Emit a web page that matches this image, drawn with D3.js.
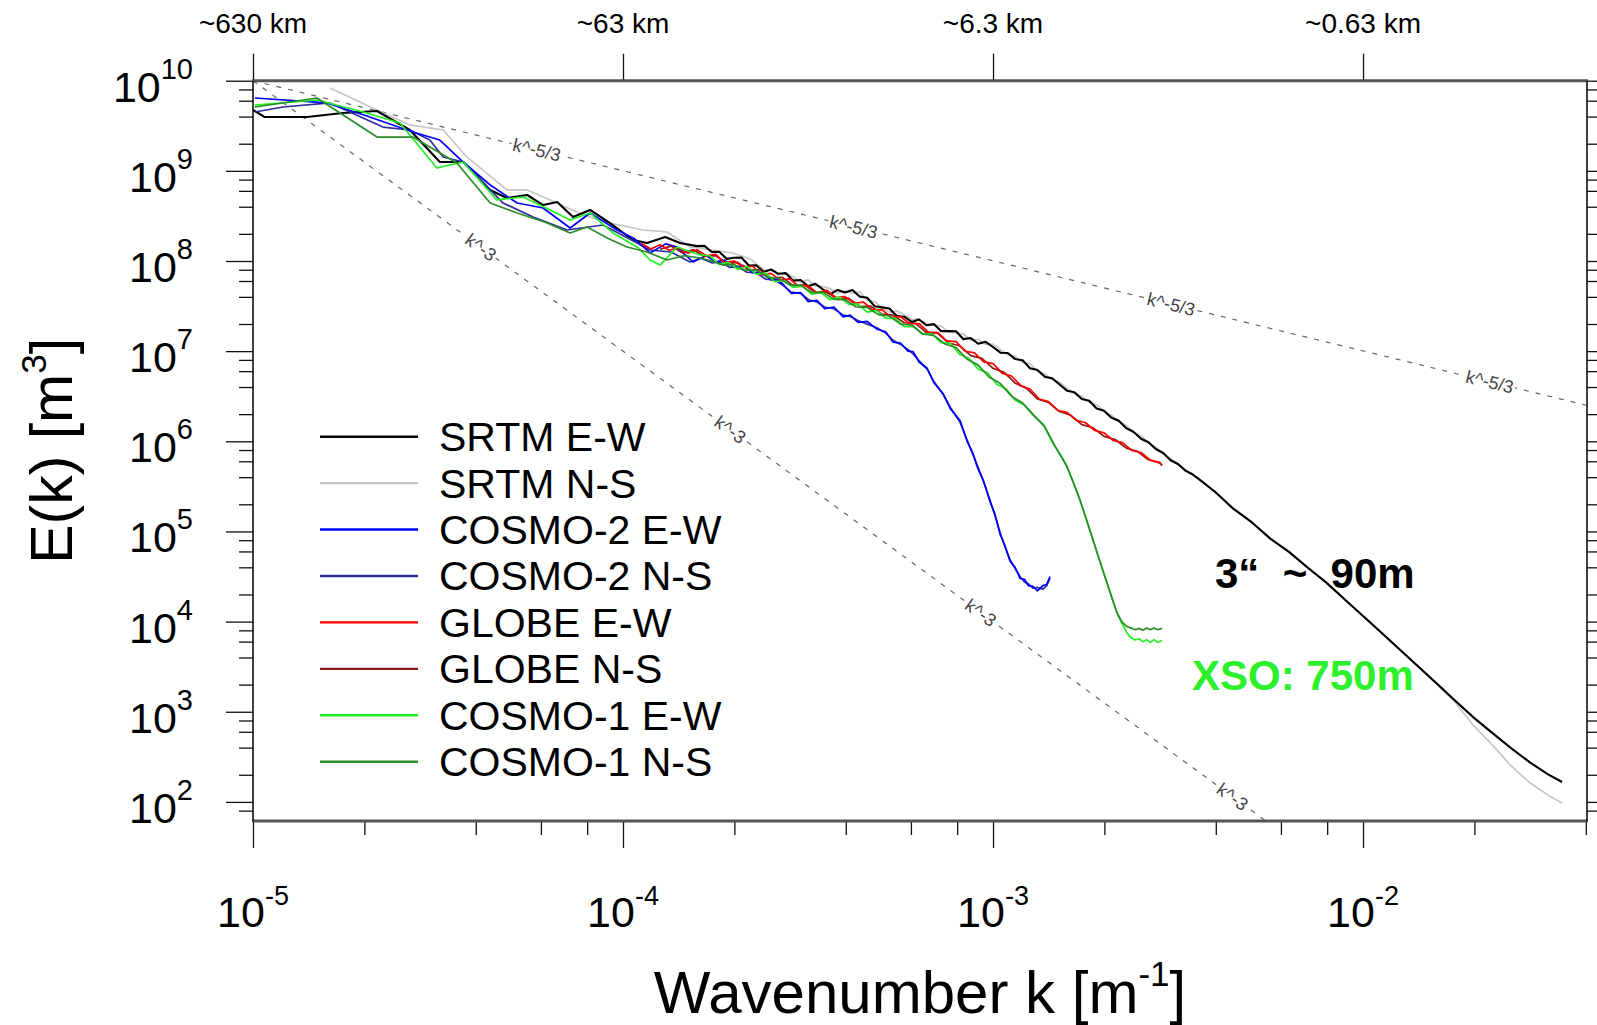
<!DOCTYPE html>
<html>
<head>
<meta charset="utf-8">
<script src="https://cdn.jsdelivr.net/npm/d3@7"></script>
<style>
  body { margin: 0; background: #fff; }
  svg { display: block; font-family: "Liberation Sans", Arial, Helvetica, sans-serif; }
</style>
</head>
<body>
<svg id="chart" width="1597" height="1025"></svg>
<script>
// spectra, as [log10 k, log10 E] pairs
const srtmEW = [[-5.000,9.675],[-4.968,9.597],[-4.854,9.597],[-4.757,9.642],[-4.665,9.664],[-4.576,9.453],[-4.495,9.098],[-4.432,9.098],[-4.359,8.788],[-4.314,8.699],[-4.259,8.732],[-4.216,8.621],[-4.178,8.655],[-4.135,8.488],[-4.089,8.566],[-4.035,8.421],[-3.973,8.233],[-3.935,8.200],[-3.886,8.266],[-3.846,8.200],[-3.800,8.165],
  [-3.78,8.168],[-3.76,8.100],[-3.74,8.102],[-3.72,8.024],[-3.70,8.036],[-3.68,8.038],[-3.66,7.950],[-3.64,7.952],[-3.62,7.879],[-3.60,7.906],[-3.58,7.858],[-3.56,7.865],[-3.54,7.782],[-3.52,7.789],[-3.50,7.721],[-3.48,7.748],[-3.46,7.685],[-3.44,7.632],[-3.42,7.679],[-3.40,7.651],[-3.38,7.678],[-3.36,7.605],[-3.34,7.592],[-3.32,7.499],[-3.30,7.486],[-3.28,7.473],[-3.26,7.390],[-3.24,7.382],[-3.22,7.324],[-3.20,7.351],[-3.18,7.288],[-3.16,7.300],[-3.14,7.222],[-3.12,7.224],[-3.10,7.221],[-3.08,7.133],[-3.06,7.145],[-3.04,7.082],[-3.02,7.104],[-3.00,7.046],
  [-2.98,6.983],[-2.96,6.980],[-2.94,6.912],[-2.92,6.899],[-2.90,6.810],[-2.88,6.790],[-2.86,6.715],[-2.84,6.700],[-2.82,6.630],[-2.80,6.560],[-2.78,6.545],[-2.76,6.470],[-2.74,6.450],[-2.72,6.365],[-2.70,6.340],[-2.68,6.262],[-2.66,6.229],[-2.64,6.146],[-2.62,6.103],[-2.60,6.028],[-2.58,5.990],[-2.56,5.915],[-2.54,5.870],[-2.52,5.790],[-2.50,5.748],[-2.48,5.675],[-2.46,5.632],[-2.44,5.570],
  [-2.400,5.440],[-2.350,5.250],[-2.300,5.100],[-2.250,4.918],[-2.200,4.774],[-2.150,4.600],[-2.100,4.435],[-2.050,4.249],[-2.000,4.062],[-1.950,3.876],[-1.900,3.688],[-1.850,3.499],[-1.800,3.310],[-1.750,3.120],[-1.700,2.932],[-1.650,2.763],[-1.600,2.597],[-1.550,2.441],[-1.500,2.306],[-1.462,2.221]];

const srtmNS = [[-4.792,9.919],[-4.665,9.675],[-4.576,9.509],[-4.486,9.453],[-4.422,9.154],[-4.314,8.788],[-4.259,8.788],[-4.178,8.643],[-4.108,8.510],[-4.035,8.421],[-3.946,8.344],[-3.881,8.322],[-3.819,8.155],[-3.760,8.120],[-3.703,8.089],[-3.655,8.020],
  [-3.62,7.906],[-3.60,7.903],[-3.58,7.845],[-3.56,7.862],[-3.54,7.824],[-3.52,7.766],[-3.50,7.793],[-3.48,7.720],[-3.46,7.717],[-3.44,7.694],[-3.42,7.641],[-3.40,7.668],[-3.38,7.640],[-3.36,7.662],[-3.34,7.564],[-3.32,7.551],[-3.30,7.483],[-3.28,7.430],[-3.26,7.447],[-3.24,7.404],[-3.22,7.351],[-3.20,7.358],[-3.18,7.290],[-3.16,7.292],[-3.14,7.279],[-3.12,7.211],[-3.10,7.203],[-3.08,7.190],[-3.06,7.122],[-3.04,7.129],[-3.02,7.076],[-3.00,7.078],
  [-2.98,7.020],[-2.96,6.957],[-2.94,6.944],[-2.92,6.876],[-2.90,6.862],[-2.88,6.777],[-2.86,6.747],[-2.84,6.682],[-2.82,6.657],[-2.80,6.587],[-2.78,6.527],[-2.76,6.502],[-2.74,6.432],[-2.72,6.404],[-2.70,6.334],[-2.68,6.290],[-2.66,6.216],[-2.64,6.176],[-2.62,6.104],[-2.60,6.060],[-2.58,5.985],[-2.56,5.934],[-2.54,5.860],[-2.52,5.808],[-2.50,5.738],[-2.48,5.687],[-2.46,5.627],[-2.44,5.570],
  [-2.400,5.430],[-2.350,5.262],[-2.300,5.092],[-2.250,4.926],[-2.200,4.766],[-2.150,4.606],[-2.100,4.437],[-2.050,4.250],[-2.000,4.060],[-1.950,3.872],[-1.900,3.682],[-1.850,3.492],[-1.800,3.300],[-1.750,3.100],[-1.700,2.840],[-1.650,2.630],[-1.600,2.400],[-1.550,2.215],[-1.500,2.075],[-1.462,1.988]];

const cosmo2EW = [[-4.995,9.808],[-4.800,9.753],[-4.700,9.620],[-4.568,9.431],[-4.495,9.342],[-4.432,9.098],[-4.359,8.843],[-4.286,8.643],[-4.216,8.588],[-4.143,8.366],[-4.089,8.532],[-4.016,8.344],[-3.970,8.250],[-3.927,8.089],[-3.885,8.190],[-3.854,8.155],[-3.811,7.989],
  [-3.775,8.060],[-3.750,7.990],[-3.725,8.010],[-3.700,7.930],[-3.675,7.950],[-3.650,7.870],[-3.625,7.870],[-3.600,7.790],[-3.585,7.800],[-3.568,7.745],[-3.545,7.640],[-3.520,7.650],[-3.500,7.550],[-3.476,7.565],[-3.455,7.470],[-3.430,7.490],[-3.405,7.380],[-3.386,7.400],[-3.365,7.320],[-3.340,7.330],[-3.314,7.245],[-3.290,7.215],[-3.270,7.100],[-3.250,7.090],[-3.230,7.000],[-3.216,6.995],[-3.200,6.880],[-3.178,6.810],[-3.160,6.650],[-3.135,6.530],[-3.115,6.360],[-3.089,6.230],[-3.070,6.000],[-3.055,5.875],[-3.043,5.720],[-3.025,5.555],[-3.008,5.330],[-2.995,5.195],[-2.981,4.970],[-2.968,4.845],[-2.954,4.670],[-2.940,4.600],[-2.927,4.480],[-2.915,4.470],[-2.905,4.400],[-2.892,4.390],[-2.880,4.340],[-2.865,4.400],[-2.855,4.410],[-2.846,4.500]];

const cosmo2NS = [[-4.995,9.653],[-4.919,9.708],[-4.792,9.753],[-4.649,9.486],[-4.576,9.453],[-4.522,9.342],[-4.486,9.154],[-4.432,9.098],[-4.324,8.643],[-4.243,8.488],[-4.151,8.344],[-4.054,8.399],[-3.990,8.260],[-3.927,8.122],[-3.870,8.100],[-3.819,7.989],[-3.790,8.030],
  [-3.760,7.980],[-3.738,7.990],[-3.712,7.930],[-3.690,7.940],[-3.665,7.875],[-3.640,7.870],[-3.615,7.800],[-3.590,7.790],[-3.568,7.730],[-3.545,7.655],[-3.520,7.640],[-3.498,7.570],[-3.476,7.545],[-3.455,7.490],[-3.430,7.470],[-3.405,7.400],[-3.386,7.385],[-3.365,7.340],[-3.340,7.300],[-3.314,7.260],[-3.290,7.200],[-3.270,7.120],[-3.250,7.075],[-3.230,7.020],[-3.216,6.970],[-3.200,6.895],[-3.178,6.800],[-3.160,6.665],[-3.135,6.520],[-3.115,6.375],[-3.089,6.210],[-3.070,6.015],[-3.055,5.860],[-3.043,5.740],[-3.025,5.545],[-3.008,5.345],[-2.995,5.180],[-2.981,4.990],[-2.968,4.830],[-2.954,4.690],[-2.940,4.585],[-2.927,4.500],[-2.915,4.440],[-2.905,4.420],[-2.892,4.370],[-2.880,4.380],[-2.865,4.360],[-2.855,4.400],[-2.846,4.480]];

const globeEW = [[-3.950,8.195],[-3.925,8.133],[-3.900,8.181],[-3.875,8.119],[-3.850,8.148],[-3.825,8.086],[-3.800,8.124],[-3.775,8.058],[-3.750,8.075],[-3.725,7.982],[-3.700,7.999],[-3.675,7.936],[-3.650,7.942],[-3.625,7.847],[-3.600,7.863],[-3.575,7.788],[-3.550,7.803],[-3.525,7.718],[-3.500,7.727],[-3.475,7.646],[-3.450,7.676],[-3.425,7.595],[-3.400,7.604],[-3.375,7.531],[-3.350,7.544],[-3.325,7.457],[-3.300,7.460],[-3.275,7.373],[-3.250,7.386],[-3.225,7.301],[-3.200,7.307],[-3.175,7.212],[-3.150,7.207],[-3.125,7.113],[-3.100,7.106],[-3.075,6.999],[-3.050,6.980],[-3.025,6.881],[-3.000,6.862],[-2.975,6.753],[-2.950,6.724],[-2.925,6.617],[-2.900,6.580],[-2.875,6.469],[-2.850,6.440],[-2.825,6.342],[-2.800,6.320],[-2.775,6.233],[-2.750,6.206],[-2.725,6.120],[-2.700,6.094],[-2.675,6.009],[-2.650,5.985],[-2.625,5.900],[-2.600,5.876],[-2.575,5.792],[-2.550,5.767],[-2.543,5.737]];

const globeNS = [[-3.900,8.130],[-3.870,8.165],[-3.840,8.090],[-3.810,8.125],[-3.780,8.050],[-3.750,8.060],[-3.720,7.970],[-3.690,7.985],[-3.660,7.900],[-3.630,7.905],[-3.600,7.810],[-3.570,7.820],[-3.540,7.725],[-3.510,7.735],[-3.480,7.650],[-3.450,7.660],[-3.420,7.575],[-3.390,7.585],[-3.360,7.495],[-3.330,7.500],[-3.300,7.410],[-3.270,7.400],[-3.240,7.315],[-3.210,7.310],[-3.180,7.205],[-3.150,7.200],[-3.120,7.090],[-3.090,7.060],[-3.060,6.950],[-3.030,6.920],[-3.000,6.810],[-2.970,6.765],[-2.940,6.645],[-2.910,6.590],[-2.880,6.470],[-2.850,6.430],[-2.820,6.330],[-2.790,6.290],[-2.760,6.185],[-2.730,6.150],[-2.700,6.055],[-2.670,6.020],[-2.640,5.925],[-2.610,5.890],[-2.580,5.795],[-2.550,5.760],[-2.543,5.730]];

const cosmo1EW = [[-4.995,9.730],[-4.827,9.786],[-4.700,9.650],[-4.603,9.531],[-4.503,9.032],[-4.432,9.098],[-4.341,8.677],[-4.270,8.710],[-4.197,8.566],[-4.143,8.455],[-4.089,8.532],[-4.027,8.311],[-3.960,8.150],[-3.927,8.011],[-3.900,7.955],[-3.854,8.155],[-3.792,8.067],
  [-3.765,8.058],[-3.740,7.961],[-3.715,7.984],[-3.690,7.906],[-3.665,7.939],[-3.640,7.854],[-3.615,7.867],[-3.590,7.770],[-3.565,7.784],[-3.540,7.707],[-3.515,7.721],[-3.490,7.631],[-3.465,7.650],[-3.440,7.570],[-3.415,7.599],[-3.390,7.519],[-3.365,7.521],[-3.340,7.432],[-3.315,7.453],[-3.290,7.364],[-3.265,7.365],[-3.240,7.272],[-3.215,7.275],[-3.190,7.188],[-3.165,7.191],[-3.140,7.093],[-3.115,7.085],[-3.090,6.963],[-3.065,6.922],[-3.040,6.801],[-3.015,6.760],[-2.990,6.633],[-2.965,6.584],[-2.940,6.456],[-2.915,6.401],[-2.890,6.282],[-2.865,6.194],[-2.840,5.990],[-2.815,5.832],[-2.800,5.715],[-2.783,5.540],[-2.765,5.349],[-2.748,5.140],[-2.730,4.905],[-2.711,4.670],[-2.692,4.428],[-2.678,4.255],[-2.665,4.095],[-2.652,3.985],[-2.638,3.874],[-2.627,3.820],[-2.616,3.796],[-2.605,3.810],[-2.595,3.775],[-2.585,3.800],[-2.575,3.770],[-2.565,3.800],[-2.555,3.770],[-2.543,3.790]];

const cosmo1NS = [[-4.995,9.708],[-4.827,9.808],[-4.665,9.375],[-4.568,9.375],[-4.449,9.087],[-4.359,8.643],[-4.286,8.532],[-4.210,8.430],[-4.143,8.311],[-4.097,8.377],[-4.040,8.250],[-3.989,8.155],[-3.935,8.100],[-3.881,8.011],[-3.835,8.060],[-3.792,8.033],
  [-3.760,8.000],[-3.730,7.955],[-3.700,7.960],[-3.670,7.895],[-3.640,7.900],[-3.610,7.820],[-3.580,7.810],[-3.550,7.735],[-3.520,7.730],[-3.490,7.650],[-3.460,7.655],[-3.430,7.575],[-3.400,7.570],[-3.370,7.490],[-3.340,7.485],[-3.310,7.405],[-3.280,7.390],[-3.250,7.300],[-3.220,7.290],[-3.190,7.190],[-3.160,7.175],[-3.130,7.080],[-3.100,7.040],[-3.070,6.910],[-3.040,6.845],[-3.010,6.710],[-2.980,6.640],[-2.950,6.500],[-2.920,6.425],[-2.890,6.290],[-2.860,6.160],[-2.830,5.930],[-2.800,5.720],[-2.783,5.545],[-2.765,5.350],[-2.748,5.135],[-2.730,4.910],[-2.711,4.665],[-2.692,4.430],[-2.678,4.255],[-2.665,4.100],[-2.652,4.000],[-2.640,3.950],[-2.628,3.930],[-2.615,3.910],[-2.605,3.925],[-2.595,3.905],[-2.585,3.930],[-2.575,3.910],[-2.565,3.930],[-2.555,3.910],[-2.543,3.925]];

const seriesNames = ["SRTM E-W", "SRTM N-S", "COSMO-2 E-W", "COSMO-2 N-S", "GLOBE E-W", "GLOBE N-S", "COSMO-1 E-W", "COSMO-1 N-S"];
const seriesData = [srtmEW, srtmNS, cosmo2EW, cosmo2NS, globeEW, globeNS, cosmo1EW, cosmo1NS];
const seriesColors = ["#000000", "#c6c6c6", "#0000ff", "#2e2e9e", "#ff0000", "#8c1a1a", "#22f022", "#2a8c2a"];
const drawOrder = [1, 0, 3, 2, 5, 4, 6, 7];

// reference slopes: end points [k, E] and k where the labels sit
const refLabels = ["k^-5/3", "k^-3"];
const refLines = [[[1e-5, 1e10], [0.0403, 2.5e6]], [[1e-5, 1e10], [1e-2, 10]]];
const refLabelK = [[5.85e-5, 4.20e-4, 3.03e-3, 2.20e-2], [4.13e-5, 1.95e-4, 9.27e-4, 4.44e-3]];

const xMajor = [1e-5, 1e-4, 1e-3, 1e-2];
const xExp = ["-5", "-4", "-3", "-2"];
const topLabels = ["~630 km", "~63 km", "~6.3 km", "~0.63 km"];
const yMajor = [1e2, 1e3, 1e4, 1e5, 1e6, 1e7, 1e8, 1e9, 1e10];
const yExp = ["2", "3", "4", "5", "6", "7", "8", "9", "10"];

const LEFT = 253, RIGHT = 1587, TOP = 80.7, BOTTOM = 821;
const MAJOR = 27, MINOR = 14;

const svg = d3.select("#chart");
const x = d3.scaleLog().domain([1e-5, 0.0403]).range([LEFT, RIGHT]);
const y = d3.scaleLog().domain([61.4, 1e10]).range([BOTTOM, TOP]);

// minor ticks at 2,4,6,8 per decade
const minorK = [], minorE = [];
for (let p = -5; p <= -2; p++) [2, 4, 6, 8].forEach(m => { const v = m * 10 ** p; if (v < 0.0403) minorK.push(v); });
for (let p = 1; p <= 9; p++) [2, 4, 6, 8].forEach(m => { const v = m * 10 ** p; if (v > 61.4 && v < 1e10) minorE.push(v); });

function tickAxis(axisFn, scale, values, size, transform) {
  const g = svg.append("g").attr("transform", transform)
    .call(axisFn(scale).tickValues(values).tickSize(size).tickSizeOuter(0).tickFormat(""));
  g.select(".domain").remove();
  g.selectAll("line").attr("stroke", "#111").attr("stroke-width", 1.3);
}
tickAxis(d3.axisBottom, x, xMajor, MAJOR, `translate(0,${BOTTOM})`);
tickAxis(d3.axisBottom, x, minorK, MINOR, `translate(0,${BOTTOM})`);
tickAxis(d3.axisTop, x, xMajor, MAJOR, `translate(0,${TOP})`);
tickAxis(d3.axisLeft, y, yMajor, MAJOR, `translate(${LEFT},0)`);
tickAxis(d3.axisLeft, y, minorE, MINOR, `translate(${LEFT},0)`);
tickAxis(d3.axisRight, y, yMajor, MAJOR, `translate(${RIGHT},0)`);
tickAxis(d3.axisRight, y, minorE, MINOR, `translate(${RIGHT},0)`);

// clip region
svg.append("clipPath").attr("id", "plotClip")
  .append("rect").attr("x", LEFT).attr("y", TOP).attr("width", RIGHT - LEFT).attr("height", BOTTOM - TOP);

const plot = svg.append("g").attr("clip-path", "url(#plotClip)");

// reference power-law lines
const refLine = d3.line().x(d => x(d[0])).y(d => y(d[1]));
refLines.forEach((pts, i) => {
  plot.append("path").attr("d", refLine(pts))
    .attr("fill", "none").attr("stroke", "#666").attr("stroke-width", 1.2)
    .attr("stroke-dasharray", "5,7");
  const [p0, p1] = pts;
  const slope = Math.log10(p1[1] / p0[1]) / Math.log10(p1[0] / p0[0]);
  const angle = Math.atan2(y(p1[1]) - y(p0[1]), x(p1[0]) - x(p0[0])) * 180 / Math.PI;
  refLabelK[i].forEach(k => {
    const e = p0[1] * Math.pow(k / p0[0], slope);
    plot.append("text")
      .attr("transform", `translate(${x(k)},${y(e)}) rotate(${angle})`)
      .attr("text-anchor", "middle").attr("dy", "0.35em")
      .attr("font-size", 18).attr("fill", "#444")
      .attr("stroke", "#fff").attr("stroke-width", 6).attr("paint-order", "stroke")
      .text(refLabels[i]);
  });
});

// spectra
const specLine = d3.line().x(d => x(10 ** d[0])).y(d => y(10 ** d[1]));
drawOrder.forEach(i => {
  plot.append("path").attr("d", specLine(seriesData[i]))
    .attr("fill", "none").attr("stroke", seriesColors[i])
    .attr("stroke-width", i === 0 ? 2.1 : 1.7).attr("stroke-linejoin", "round");
});

// frame
svg.append("line").attr("x1", LEFT - 1).attr("x2", RIGHT + 1).attr("y1", TOP).attr("y2", TOP).attr("stroke", "#555").attr("stroke-width", 3);
svg.append("line").attr("x1", LEFT - 1).attr("x2", RIGHT + 1).attr("y1", BOTTOM).attr("y2", BOTTOM).attr("stroke", "#555").attr("stroke-width", 3);
svg.append("line").attr("x1", LEFT).attr("x2", LEFT).attr("y1", TOP).attr("y2", BOTTOM).attr("stroke", "#111").attr("stroke-width", 1.6);
svg.append("line").attr("x1", RIGHT).attr("x2", RIGHT).attr("y1", TOP).attr("y2", BOTTOM).attr("stroke", "#111").attr("stroke-width", 1.6);

// tick labels
function powerLabel(g, exp, baseSize, supSize, rise) {
  g.append("tspan").attr("font-size", baseSize).text("10");
  g.append("tspan").attr("font-size", supSize).attr("dy", -rise).text(exp);
}
xMajor.forEach((k, i) => {
  const t = svg.append("text").attr("x", x(k)).attr("y", 927).attr("text-anchor", "middle").attr("fill", "#000");
  powerLabel(t, xExp[i], 43, 27, 22);
  svg.append("text").attr("x", x(k)).attr("y", 33).attr("text-anchor", "middle")
    .attr("font-size", 28).attr("fill", "#000").text(topLabels[i]);
});
yMajor.forEach((e, i) => {
  const t = svg.append("text").attr("x", 193).attr("y", y(e) + 21).attr("text-anchor", "end").attr("fill", "#000");
  powerLabel(t, yExp[i], 43, 29, 23);
});

// axis titles
const xt = svg.append("text").attr("x", (LEFT + RIGHT) / 2).attr("y", 1013).attr("text-anchor", "middle").attr("fill", "#000");
xt.append("tspan").attr("font-size", 60).text("Wavenumber k [m");
xt.append("tspan").attr("font-size", 35).attr("dy", -27).text("-1");
xt.append("tspan").attr("font-size", 60).attr("dy", 27).text("]");

const yt = svg.append("text").attr("transform", `translate(72,${(TOP + BOTTOM) / 2}) rotate(-90)`)
  .attr("text-anchor", "middle").attr("fill", "#000");
yt.append("tspan").attr("font-size", 59).text("E(k) [m");
yt.append("tspan").attr("font-size", 35).attr("dy", -26).text("3");
yt.append("tspan").attr("font-size", 59).attr("dy", 26).text("]");

// legend
const legend = svg.append("g").attr("transform", "translate(320,436.7)");
seriesNames.forEach((name, i) => {
  const row = legend.append("g").attr("transform", `translate(0,${i * 46.43})`);
  row.append("line").attr("x1", 0).attr("x2", 98).attr("y1", 0).attr("y2", 0)
    .attr("stroke", seriesColors[i]).attr("stroke-width", 2.4);
  row.append("text").attr("x", 119).attr("y", 14.5).attr("font-size", 41).attr("fill", "#000").text(name);
});

// annotations
svg.append("text").attr("x", 1215).attr("y", 588).attr("font-size", 42).attr("font-weight", "bold")
  .attr("fill", "#000").style("white-space", "pre").text("3\u201C  ~  90m");
svg.append("text").attr("x", 1192).attr("y", 690).attr("font-size", 42).attr("font-weight", "bold")
  .attr("fill", "#2cf02c").text("XSO: 750m");
</script>
</body>
</html>
